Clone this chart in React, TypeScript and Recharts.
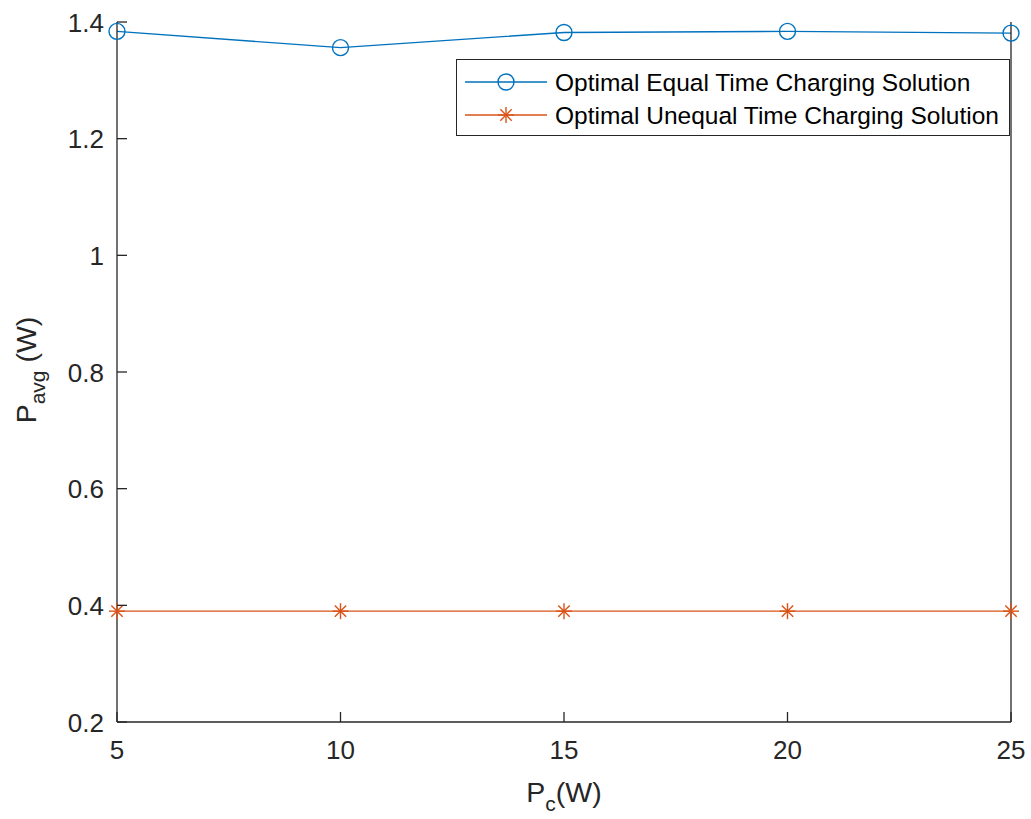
import { LineChart, Line, XAxis, YAxis, Legend } from 'recharts'

const pc = [5, 10, 15, 20, 25]
const equalTime = [1.384, 1.356, 1.382, 1.384, 1.381]
const unequalTime = [0.39, 0.39, 0.39, 0.39, 0.39]
const xTicks = [5, 10, 15, 20, 25]
const yTicks = [0.2, 0.4, 0.6, 0.8, 1, 1.2, 1.4]

const BLUE = '#0072BD'
const ORANGE = '#D95319'
const AXIS = '#262626'
const FONT = '"Liberation Sans", Arial, Helvetica, sans-serif'
const TICK_LEN = 10
const TICK_FONT = 26

const data = pc.map((x, i) => ({ pc: x, eq: equalTime[i], uneq: unequalTime[i] }))

function CircleMark({ cx, cy }: { cx?: number; cy?: number }) {
  if (cx == null || cy == null) return null
  return <circle cx={cx} cy={cy} r={8} fill="none" stroke={BLUE} strokeWidth={1.4} />
}

function StarMark({ cx, cy }: { cx?: number; cy?: number }) {
  if (cx == null || cy == null) return null
  const r = 8
  const d = 5.7
  return (
    <g stroke={ORANGE} strokeWidth={1.4}>
      <line x1={cx} y1={cy - r} x2={cx} y2={cy + r} />
      <line x1={cx - r} y1={cy} x2={cx + r} y2={cy} />
      <line x1={cx - d} y1={cy - d} x2={cx + d} y2={cy + d} />
      <line x1={cx - d} y1={cy + d} x2={cx + d} y2={cy - d} />
    </g>
  )
}

// tick props: x/y is the label anchor, which sits tickMargin away from the axis line
const X_MARGIN = 37
const Y_MARGIN = 13

function BottomTick({ x, y, payload }: any) {
  const axisY = y - X_MARGIN
  return (
    <g>
      <line x1={x} y1={axisY} x2={x} y2={axisY - TICK_LEN} stroke={AXIS} strokeWidth={1.3} />
      <text x={x} y={y} textAnchor="middle" fontSize={TICK_FONT} fontFamily={FONT} fill={AXIS}>{payload.value}</text>
    </g>
  )
}

function TopTick({ x, y }: any) {
  return <line x1={x} y1={y} x2={x} y2={y + TICK_LEN} stroke={AXIS} strokeWidth={1.3} />
}

function LeftTick({ x, y, payload }: any) {
  const axisX = x + Y_MARGIN
  return (
    <g>
      <line x1={axisX} y1={y} x2={axisX + TICK_LEN} y2={y} stroke={AXIS} strokeWidth={1.3} />
      <text x={x} y={y} dy={9.5} textAnchor="end" fontSize={TICK_FONT} fontFamily={FONT} fill={AXIS}>{String(payload.value)}</text>
    </g>
  )
}

function RightTick({ x, y }: any) {
  return <line x1={x} y1={y} x2={x - TICK_LEN} y2={y} stroke={AXIS} strokeWidth={1.3} />
}

function LegendBox() {
  return (
    <div style={{ width: 554, height: 77, border: `1.3px solid ${AXIS}`, background: '#fff', boxSizing: 'border-box' }}>
      <svg width={552} height={75} style={{ display: 'block' }}>
        <line x1={8} y1={22} x2={90} y2={22} stroke={BLUE} strokeWidth={1.4} />
        <CircleMark cx={49} cy={22} />
        <text x={98} y={30.5} fontSize={24.5} fontFamily={FONT} fill="#000">Optimal Equal Time Charging Solution</text>
        <line x1={8} y1={55} x2={90} y2={55} stroke={ORANGE} strokeWidth={1.4} />
        <StarMark cx={49} cy={55} />
        <text x={98} y={63.5} fontSize={24.5} fontFamily={FONT} fill="#000">Optimal Unequal Time Charging Solution</text>
      </svg>
    </div>
  )
}

function XLabel({ viewBox }: { viewBox?: { x: number; y: number; width: number; height: number } }) {
  if (!viewBox) return null
  const cx = viewBox.x + viewBox.width / 2
  return (
    <text x={cx} y={viewBox.y + 80} textAnchor="middle" fontSize={28.5} fontFamily={FONT} fill={AXIS}>
      <tspan>P</tspan>
      <tspan dy={9} fontSize={21}>c</tspan>
      <tspan dy={-9}>(W)</tspan>
    </text>
  )
}

function YLabel({ viewBox }: { viewBox?: { x: number; y: number; width: number; height: number } }) {
  if (!viewBox) return null
  const cy = viewBox.y + viewBox.height / 2 - 2
  const x = 36
  return (
    <text x={x} y={cy} transform={`rotate(-90, ${x}, ${cy})`} textAnchor="middle" fontSize={28.5} fontFamily={FONT} fill={AXIS}>
      <tspan>P</tspan>
      <tspan dy={9} fontSize={21}>avg</tspan>
      <tspan dy={-9}> (W)</tspan>
    </text>
  )
}

export default function App() {
  return (
    <div style={{ position: 'absolute', left: 0, top: 0, background: '#fff' }}>
      <LineChart width={1031} height={819} data={data} margin={{ top: 22, right: 0, bottom: 0, left: 0 }}>
        <XAxis
          xAxisId="b"
          dataKey="pc"
          type="number"
          domain={[5, 25]}
          ticks={xTicks}
          height={97}
          stroke={AXIS}
          strokeWidth={1.3}
          tickLine={false}
          tickSize={0}
          tickMargin={X_MARGIN}
          tick={<BottomTick />}
          label={<XLabel />}
        />
        <XAxis
          xAxisId="t"
          orientation="top"
          dataKey="pc"
          type="number"
          domain={[5, 25]}
          ticks={xTicks}
          height={0}
          stroke={AXIS}
          strokeWidth={1.3}
          tickLine={false}
          tickSize={0}
          tickMargin={0}
          tick={<TopTick />}
        />
        <YAxis
          yAxisId="l"
          type="number"
          domain={[0.2, 1.4]}
          ticks={yTicks}
          width={117}
          stroke={AXIS}
          strokeWidth={1.3}
          tickLine={false}
          tickSize={0}
          tickMargin={Y_MARGIN}
          tick={<LeftTick />}
          label={<YLabel />}
        />
        <YAxis
          yAxisId="r"
          orientation="right"
          type="number"
          domain={[0.2, 1.4]}
          ticks={yTicks}
          width={20}
          stroke={AXIS}
          strokeWidth={1.3}
          tickLine={false}
          tickSize={0}
          tickMargin={0}
          tick={<RightTick />}
        />
        <Legend
          layout="vertical"
          align="center"
          verticalAlign="middle"
          wrapperStyle={{ top: 59, left: 456, width: 554, height: 77 }}
          content={<LegendBox />}
        />
        <Line
          xAxisId="b"
          yAxisId="l"
          dataKey="eq"
          name="Optimal Equal Time Charging Solution"
          stroke={BLUE}
          strokeWidth={1.4}
          dot={(p: any) => <CircleMark key={`c${p.index}`} cx={p.cx} cy={p.cy} />}
          activeDot={false}
          isAnimationActive={false}
        />
        <Line
          xAxisId="b"
          yAxisId="l"
          dataKey="uneq"
          name="Optimal Unequal Time Charging Solution"
          stroke={ORANGE}
          strokeWidth={1.4}
          dot={(p: any) => <StarMark key={`s${p.index}`} cx={p.cx} cy={p.cy} />}
          activeDot={false}
          isAnimationActive={false}
        />
      </LineChart>
    </div>
  )
}
